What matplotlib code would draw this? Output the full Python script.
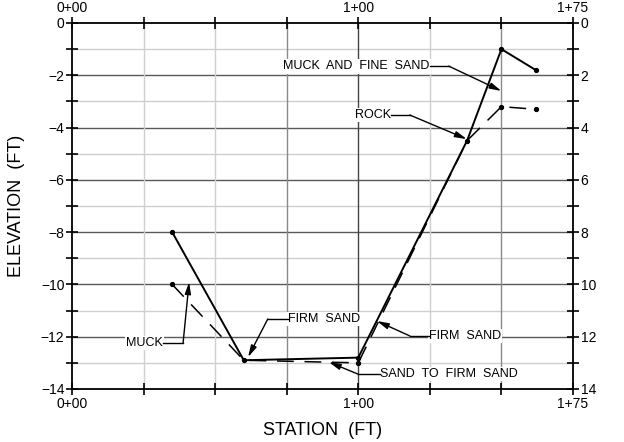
import numpy as np
import matplotlib.pyplot as plt
from matplotlib.ticker import FuncFormatter

plt.rcParams['font.family'] = ['Liberation Sans', 'DejaVu Sans']

# profile data (station in ft, elevation in ft)
station_solid = [35, 60, 100, 138, 150, 162]
elev_solid = [-8.0, -12.9, -12.8, -4.5, -1.0, -1.8]
station_dash = [35, 60, 100, 138, 150, 162]
elev_dash = [-10.0, -12.9, -13.0, -4.5, -3.2, -3.3]

station_ticks = [0, 100, 175]
station_labels = ["0+00", "1+00", "1+75"]
station_minor = [25, 50, 75, 125, 150]

# callouts: text, text anchor (x, y), alignment, elbow x, arrow tip (x, y)
notes = [
    ("MUCK  AND  FINE  SAND", (125.0, -1.65), "right", 131.6, (150.0, -2.6)),
    ("ROCK", (111.4, -3.52), "right", 118.0, (137.9, -4.44)),
    ("MUCK", (31.8, -12.24), "right", 38.8, (40.9, -9.91)),
    ("FIRM  SAND", (75.4, -11.32), "left", 68.4, (61.5, -12.78)),
    ("FIRM  SAND", (124.7, -11.97), "left", 118.0, (106.5, -11.40)),
    ("SAND  TO  FIRM  SAND", (107.5, -13.43), "left", 99.9, (89.7, -12.97)),
]

fig = plt.figure(figsize=(6.24, 4.42), dpi=100)
ax = fig.add_axes([72/624, 1-389/442, 501/624, 366/442])
ax.set_xlim(0, 175)
ax.set_ylim(-14, 0)

# grid
for y in range(-13, 0):
    c = "#5a5a5a" if y % 2 == 0 else "#cfcfcf"
    ax.axhline(y, color=c, lw=1.0, zorder=0)
vcols = {25: "#cfcfcf", 50: "#cfcfcf", 75: "#8a8a8a", 100: "#444444",
         125: "#cfcfcf", 150: "#8a8a8a"}
for x, c in vcols.items():
    ax.axvline(x, color=c, lw=1.0, zorder=0)

ax.plot(station_solid, elev_solid, color="black", lw=1.4, marker="o", ms=2.8, zorder=3)
ax.plot(station_dash, elev_dash, color="black", lw=1.1, dashes=(11, 7),
        zorder=3)
ax.plot([station_dash[0], station_dash[2], station_dash[4], station_dash[5]],
        [elev_dash[0], elev_dash[2], elev_dash[4], elev_dash[5]],
        ls="none", marker="o", ms=2.8, color="black", zorder=3)

for txt, (tx, ty), ha, ex, (ax_, ay) in notes:
    ax.text(tx, ty, txt, ha=ha, va="center", fontsize=9, zorder=4,
            bbox=dict(facecolor="white", edgecolor="none", pad=1))
    ax.plot([tx, ex], [ty, ty], color="black", lw=1.0, zorder=4)
    ax.annotate("", xy=(ax_, ay), xytext=(ex, ty), zorder=4,
                arrowprops=dict(arrowstyle="-|>,head_length=0.7,head_width=0.18",
                                color="black", lw=1.0, shrinkA=0, shrinkB=0))

for s in ax.spines.values():
    s.set_linewidth(1.3)

ax.set_xticks(station_ticks)
ax.set_xticklabels(station_labels)
ax.set_xticks(station_minor, minor=True)
ax.set_yticks(np.arange(-14, 1, 2))
ax.set_yticks(np.arange(-13, 0, 2), minor=True)
ax.tick_params(which="both", direction="inout", length=9, width=1.2,
               top=True, labeltop=True, labelsize=10, pad=1)
ax.tick_params(axis="y", which="both", right=True)

ax2 = ax.twinx()
ax2.set_ylim(-14, 0)
ax2.set_yticks(np.arange(-14, 1, 2))
ax2.set_yticks(np.arange(-13, 0, 2), minor=True)
ax2.yaxis.set_major_formatter(FuncFormatter(lambda v, p: f"{abs(v):.0f}"))
ax2.tick_params(which="both", direction="inout", length=9, width=1.2,
                labelsize=10, pad=1)
for s in ax2.spines.values():
    s.set_visible(False)

ax.set_xlabel("STATION  (FT)", fontsize=13)
ax.set_ylabel("ELEVATION  (FT)", fontsize=13)
ax.xaxis.set_label_coords(0.5, -0.09)
ax.yaxis.set_label_coords(-0.094, 0.5)

fig.savefig("out.png", dpi=100)
